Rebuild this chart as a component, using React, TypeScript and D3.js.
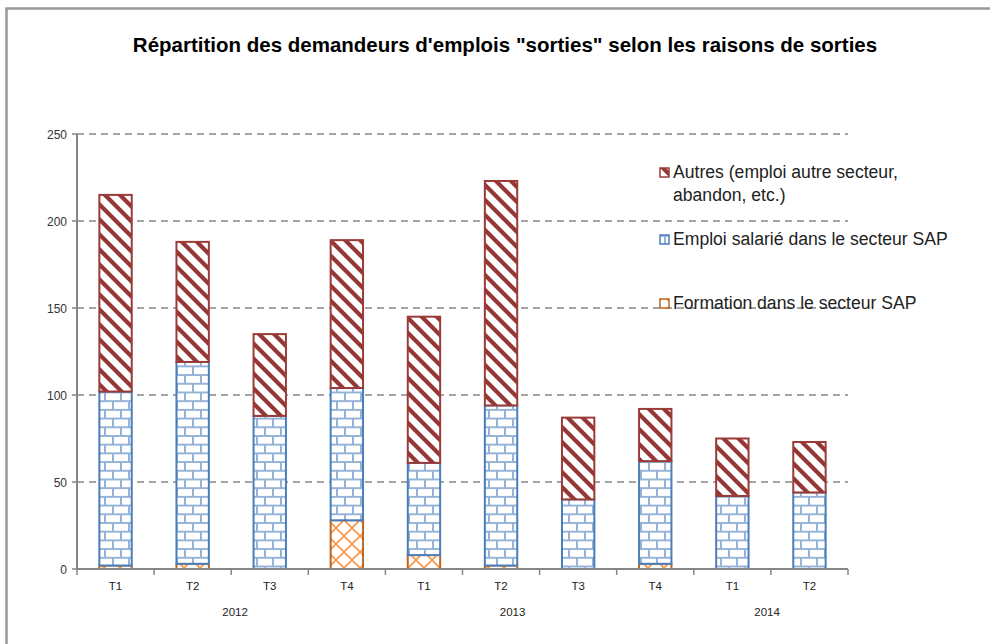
import React from "react";
import * as d3 from "d3";

const quarters = ["T1", "T2", "T3", "T4", "T1", "T2", "T3", "T4", "T1", "T2"];
const years = ["2012", "2013", "2014"];
const yearLabelPos = [2.05, 5.65, 8.95];
const formation = [2, 3, 0, 28, 8, 2, 0, 3, 0, 0];
const emploi = [100, 116, 88, 76, 53, 92, 40, 59, 42, 44];
const autres = [113, 69, 47, 85, 84, 129, 47, 30, 33, 29];
const yTicks = [0, 50, 100, 150, 200, 250];
const title = "Répartition des demandeurs d'emplois \"sorties\" selon les raisons de sorties";
const legendItems = [
  { key: "autres", lines: ["Autres (emploi autre secteur,", "abandon, etc.)"] },
  { key: "emploi", lines: ["Emploi salarié dans le secteur SAP"] },
  { key: "formation", lines: ["Formation dans le secteur SAP"] },
];

const W = 990;
const H = 644;
const M = { left: 77, right: 848, top: 134, bottom: 569 };

export default function App() {
  const idx = quarters.map((_, i) => String(i));
  const x = d3.scaleBand().domain(idx).range([M.left, M.right]).paddingInner(0.58).paddingOuter(0.29);
  const xc = d3.scaleLinear().domain([0, quarters.length]).range([M.left, M.right]);
  const y = d3.scaleLinear().domain([0, 250]).range([M.bottom, M.top]);

  const rows = quarters.map((q, i) => ({ i: String(i), formation: formation[i], emploi: emploi[i], autres: autres[i] }));
  const keys = ["formation", "emploi", "autres"];
  const stack = d3.stack<any>().keys(keys)(rows);
  const fills: Record<string, string> = { formation: "url(#pFormation)", emploi: "url(#pEmploi)", autres: "url(#pAutres)" };
  const strokes: Record<string, string> = { formation: "#C0651E", emploi: "#4A7EBB", autres: "#9B3B38" };
  const font = "'Liberation Sans', Arial, sans-serif";

  const legendY = [178, 245, 309];

  return (
    <svg width={W} height={H} style={{ position: "absolute", left: 0, top: 0, background: "#fff" }} fontFamily={font}>
      <defs>
        <pattern id="pAutres" patternUnits="userSpaceOnUse" width="15" height="15">
          <rect width="15" height="15" fill="#fff" />
          <path d="M-4,-4 L19,19 M-4,11 L4,19 M11,-4 L19,4" stroke="#953735" strokeWidth="4.2" />
        </pattern>
        <pattern id="pEmploi" patternUnits="userSpaceOnUse" width="16" height="17.4">
          <rect width="16" height="17.4" fill="#fff" />
          <path d="M0,1 H16 M0,9.7 H16 M1,0 V9.7 M9,9.7 V17.4" stroke="#95B3D7" strokeWidth="2" />
        </pattern>
        <pattern id="pFormation" patternUnits="userSpaceOnUse" width="16" height="16">
          <rect width="16" height="16" fill="#fff" />
          <path d="M0,0 L16,16 M16,0 L0,16" stroke="#F79646" strokeWidth="1.6" />
        </pattern>
      </defs>

      <rect x={6.5} y={8.5} width={1000} height={700} fill="none" stroke="#999" strokeWidth={2.5} />

      <text x={505} y={52} textAnchor="middle" fontSize={20.5} fontWeight="bold" fill="#000">{title}</text>

      {yTicks.slice(1).map((t) => (
        <line key={t} x1={M.left} x2={M.right} y1={y(t)} y2={y(t)} stroke="#868686" strokeWidth={1.5} strokeDasharray="7,5" />
      ))}

      {stack.map((s) => (
        <g key={s.key}>
          {s.map((d, j) => {
            const h = y(d[0]) - y(d[1]);
            if (h <= 0.01) return null;
            return (
              <rect key={j} x={x(String(j))} y={y(d[1])} width={x.bandwidth()} height={h}
                fill={fills[s.key]} stroke={strokes[s.key]} strokeWidth={2} />
            );
          })}
        </g>
      ))}

      <line x1={M.left} x2={M.left} y1={M.top} y2={M.bottom} stroke="#868686" strokeWidth={2} />
      {yTicks.map((t) => (
        <g key={t}>
          <line x1={M.left - 5} x2={M.left} y1={y(t)} y2={y(t)} stroke="#868686" strokeWidth={1.5} />
          <text x={M.left - 10} y={y(t) + 4.5} textAnchor="end" fontSize={12} fill="#333">{t}</text>
        </g>
      ))}
      <line x1={M.left} x2={M.right} y1={M.bottom} y2={M.bottom} stroke="#868686" strokeWidth={2} />
      {d3.range(quarters.length + 1).map((k) => (
        <line key={k} x1={xc(k)} x2={xc(k)} y1={M.bottom} y2={M.bottom + 6} stroke="#868686" strokeWidth={1.5} />
      ))}
      {quarters.map((q, i) => (
        <text key={i} x={(x(String(i)) as number) + x.bandwidth() / 2} y={590} textAnchor="middle" fontSize={11.5} fill="#222">{q}</text>
      ))}
      {years.map((yr, i) => (
        <text key={yr} x={xc(yearLabelPos[i])} y={616} textAnchor="middle" fontSize={11.5} fill="#222">{yr}</text>
      ))}

      {legendItems.map((it, i) => (
        <g key={it.key}>
          <rect x={660} y={legendY[i] - 10} width={9} height={9} fill={fills[it.key]} stroke={strokes[it.key]} strokeWidth={1.5} />
          {it.lines.map((ln, k) => (
            <text key={k} x={673} y={legendY[i] + k * 23} fontSize={17.6} fill="#222">{ln}</text>
          ))}
        </g>
      ))}
    </svg>
  );
}
